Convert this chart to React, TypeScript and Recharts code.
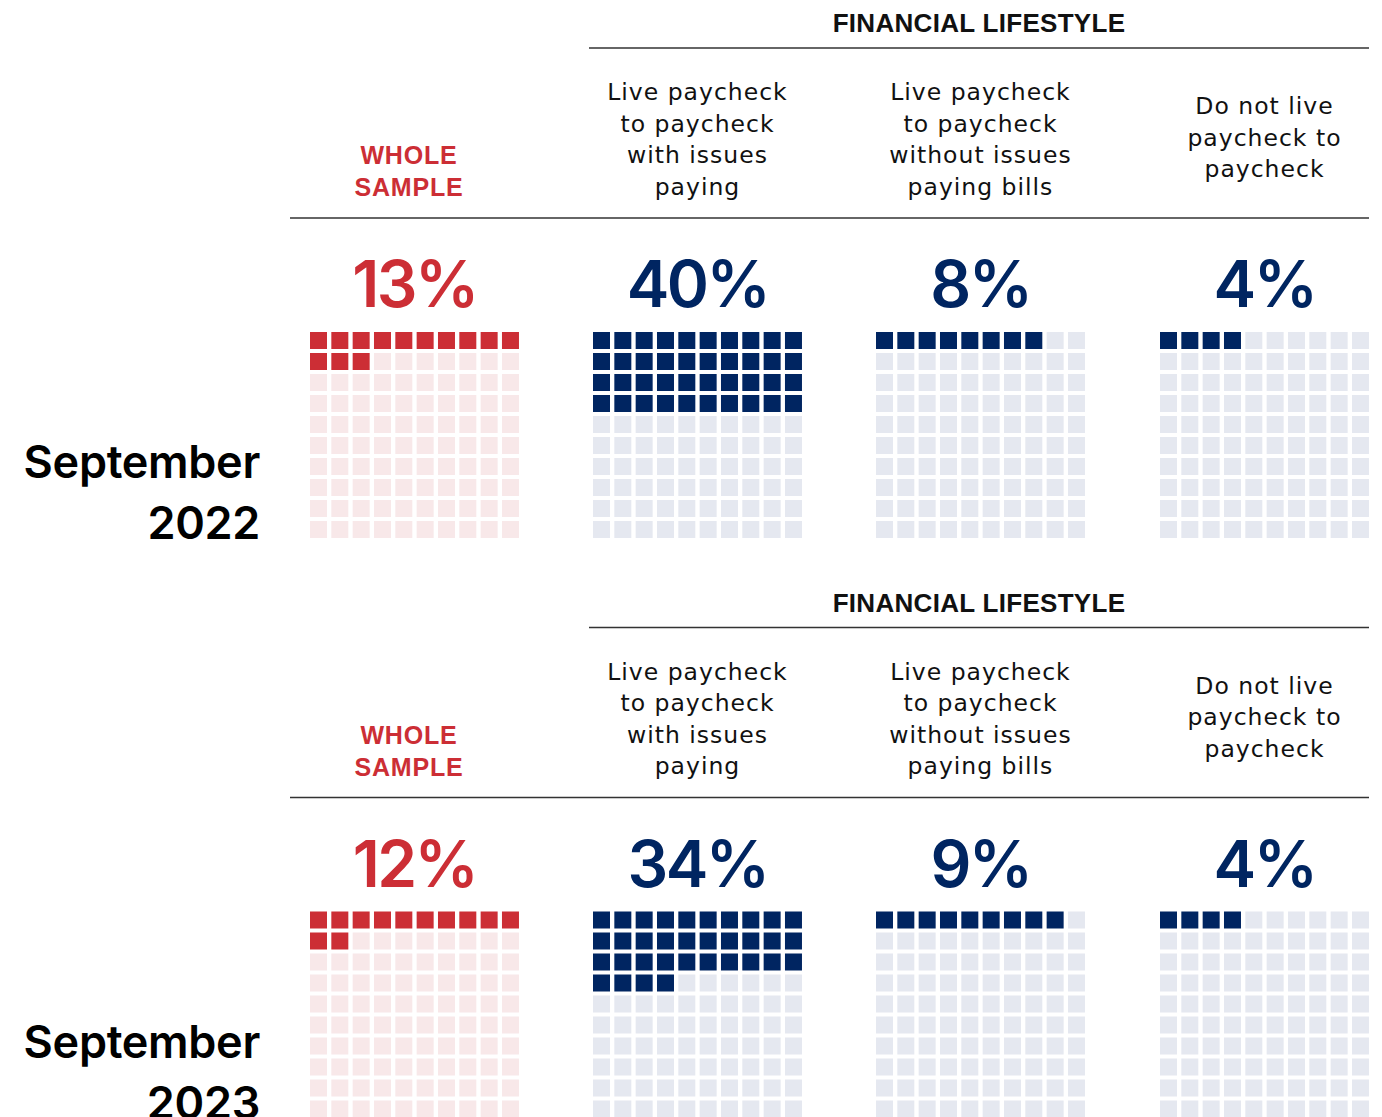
import React from 'react';
import { ScatterChart, Scatter, XAxis, YAxis, Customized } from 'recharts';

// ---- data ----
const periods = ['September 2022', 'September 2023'];
const groupKeys = ['whole', 'withIssues', 'withoutIssues', 'notPaycheck'];
const groupTitles: string[][] = [
  ['WHOLE', 'SAMPLE'],
  ['Live paycheck', 'to paycheck', 'with issues', 'paying'],
  ['Live paycheck', 'to paycheck', 'without issues', 'paying bills'],
  ['Do not live', 'paycheck to', 'paycheck'],
];
const sectionTitle = 'FINANCIAL LIFESTYLE';
const sep2022 = [13, 40, 8, 4];
const sep2023 = [12, 34, 9, 4];
const periodValues = [sep2022, sep2023];

// ---- layout / style ----
const W = 1382;
const H = 1117;
const RED = '#CC2E35';
const RED_LIGHT = '#F8E8E9';
const NAVY = '#002561';
const NAVY_LIGHT = '#E5E8F0';
const GRID_LEFT = [310, 593, 876, 1160];
const CELL = 17;
const PITCH_X = 21.33;
const PITCH_Y = 21;
const SECTION_TOP = [0, 579.5];
const GRID_TOP = 332;

type Cell = { x: number; y: number; fill: string };

function buildCells(period: number, group: number): Cell[] {
  const value = periodValues[period][group];
  const isRed = group === 0;
  const cells: Cell[] = [];
  for (let i = 0; i < 100; i++) {
    const row = Math.floor(i / 10);
    const col = i % 10;
    cells.push({
      x: GRID_LEFT[group] + col * PITCH_X + CELL / 2,
      y: SECTION_TOP[period] + GRID_TOP + row * PITCH_Y + CELL / 2,
      fill: i < value ? (isRed ? RED : NAVY) : isRed ? RED_LIGHT : NAVY_LIGHT,
    });
  }
  return cells;
}

const Square = (props: any) => {
  const { cx, cy, payload } = props;
  if (cx == null || cy == null) return null;
  return <rect x={cx - CELL / 2} y={cy - CELL / 2} width={CELL} height={CELL} fill={payload.fill} />;
};

const headerFont = '"DejaVu Sans", sans-serif';
const boldFont = '"Liberation Sans", Arial, sans-serif';
const numFont = 'Inter, "Noto Sans", sans-serif';

const Labels = () => {
  return (
    <g>
      {periods.map((p, pi) => {
        const off = SECTION_TOP[pi];
        const [month, year] = p.split(' ');
        return (
          <g key={p}>
            <text x={979} y={off + 32} textAnchor="middle" fontFamily={boldFont} fontWeight={700} fontSize={26} letterSpacing={0.3} fill="#111">
              {sectionTitle}
            </text>
            <line x1={589} x2={1369} y1={off + 48} y2={off + 48} stroke="#333" strokeWidth={1.5} />
            <line x1={290} x2={1369} y1={off + 218} y2={off + 218} stroke="#333" strokeWidth={1.5} />
            {groupTitles.map((lines, gi) => {
              const cx = GRID_LEFT[gi] + (9 * PITCH_X + CELL) / 2;
              if (gi === 0) {
                return (
                  <g key={gi}>
                    {lines.map((l, li) => (
                      <text key={li} x={409} y={off + 164 + li * 32} textAnchor="middle" fontFamily={boldFont} fontWeight={700} fontSize={25} letterSpacing={0.8} fill={RED}>
                        {l}
                      </text>
                    ))}
                  </g>
                );
              }
              const startY = lines.length === 4 ? 100 : 114;
              return (
                <g key={gi}>
                  {lines.map((l, li) => (
                    <text key={li} x={cx} y={off + startY + li * 31.6} textAnchor="middle" fontFamily={headerFont} fontSize={23.5} letterSpacing={1} fill="#111">
                      {l}
                    </text>
                  ))}
                </g>
              );
            })}
            {periodValues[pi].map((v, gi) => {
              const cx = GRID_LEFT[gi] + (9 * PITCH_X + CELL) / 2;
              return (
                <text key={gi} x={cx} y={off + 307} textAnchor="middle" fontFamily={numFont} fontWeight={600} fontSize={64} letterSpacing={-2.5} fill={gi === 0 ? RED : NAVY}>
                  {`${v}%`}
                </text>
              );
            })}
            <text x={260} y={off + 478} textAnchor="end" fontFamily={numFont} fontWeight={600} fontSize={45} letterSpacing={-0.3} fill="#000">
              {month}
            </text>
            <text x={260} y={off + 539} textAnchor="end" fontFamily={numFont} fontWeight={600} fontSize={45} letterSpacing={-0.3} fill="#000">
              {year}
            </text>
          </g>
        );
      })}
    </g>
  );
};

export default function App() {
  const series: { key: string; data: Cell[] }[] = [];
  periods.forEach((p, pi) => {
    groupKeys.forEach((g, gi) => {
      series.push({ key: `${p}-${g}`, data: buildCells(pi, gi) });
    });
  });
  return (
    <div style={{ position: 'absolute', left: 0, top: 0, width: W, height: H, background: '#fff' }}>
      <ScatterChart width={W} height={H} margin={{ top: 0, right: 0, bottom: 0, left: 0 }}>
        <XAxis type="number" dataKey="x" domain={[0, W]} hide />
        <YAxis type="number" dataKey="y" domain={[0, H]} reversed hide />
        {series.map((s) => (
          <Scatter key={s.key} name={s.key} data={s.data} shape={Square} isAnimationActive={false} />
        ))}
        <Customized component={Labels} />
      </ScatterChart>
    </div>
  );
}
